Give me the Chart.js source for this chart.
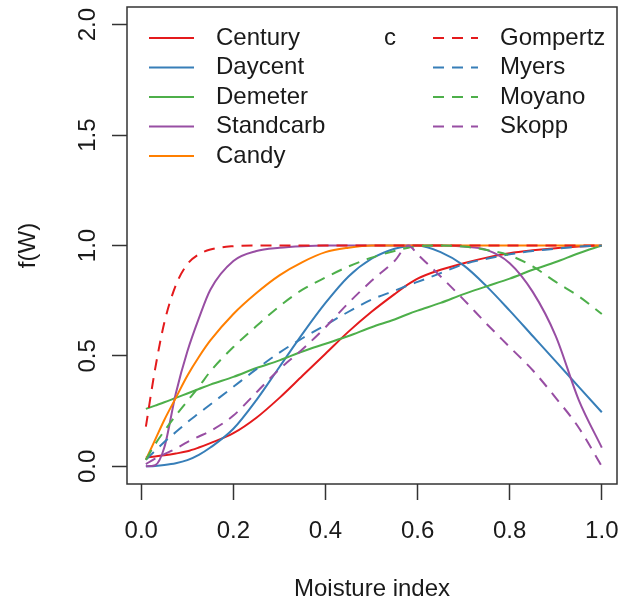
<!DOCTYPE html>
<html>
<head>
<meta charset="utf-8">
<script src="https://cdn.jsdelivr.net/npm/chart.js@4.4.0/dist/chart.umd.min.js"></script>
<style>
  html, body { margin: 0; padding: 0; background: #fff; }
  #wrap { width: 621px; height: 607px; }
</style>
</head>
<body>
<div id="wrap"><canvas id="chart" width="621" height="607"></canvas></div>
<script>
// Data (moisture index -> f(W))
const moisture = [0.01, 0.03, 0.05, 0.075, 0.1, 0.125, 0.15, 0.2, 0.25, 0.3, 0.35, 0.4, 0.45, 0.5, 0.55, 0.58, 0.6, 0.65, 0.7, 0.75, 0.8, 0.85, 0.9, 0.95, 1.0];

const century   = [0.04, 0.045, 0.05, 0.058, 0.068, 0.085, 0.105, 0.15, 0.22, 0.31, 0.41, 0.51, 0.61, 0.70, 0.78, 0.825, 0.85, 0.89, 0.92, 0.945, 0.965, 0.978, 0.988, 0.995, 1.0];
const daycent   = [0.0, 0.002, 0.006, 0.014, 0.028, 0.052, 0.085, 0.17, 0.30, 0.45, 0.60, 0.74, 0.86, 0.94, 0.985, 0.998, 1.0, 0.97, 0.91, 0.815, 0.705, 0.59, 0.475, 0.36, 0.245];
const demeter   = [0.26, 0.275, 0.29, 0.31, 0.33, 0.35, 0.37, 0.405, 0.445, 0.48, 0.52, 0.555, 0.59, 0.63, 0.665, 0.69, 0.705, 0.74, 0.78, 0.815, 0.85, 0.89, 0.925, 0.965, 1.0];
const standcarb = [0.0, 0.005, 0.085, 0.33, 0.52, 0.67, 0.80, 0.93, 0.975, 0.99, 0.997, 1.0, 1.0, 1.0, 1.0, 1.0, 1.0, 1.0, 0.995, 0.98, 0.92, 0.79, 0.59, 0.30, 0.085];
const candy     = [0.03, 0.12, 0.21, 0.31, 0.41, 0.495, 0.57, 0.69, 0.785, 0.865, 0.925, 0.97, 0.99, 1.0, 1.0, 1.0, 1.0, 1.0, 1.0, 1.0, 1.0, 1.0, 1.0, 1.0, 1.0];
const gompertz  = [0.18, 0.44, 0.65, 0.82, 0.915, 0.96, 0.982, 0.997, 1.0, 1.0, 1.0, 1.0, 1.0, 1.0, 1.0, 1.0, 1.0, 1.0, 1.0, 1.0, 1.0, 1.0, 1.0, 1.0, 1.0];
const myers     = [0.03, 0.07, 0.11, 0.155, 0.20, 0.24, 0.28, 0.36, 0.44, 0.515, 0.58, 0.64, 0.70, 0.755, 0.795, 0.82, 0.835, 0.875, 0.915, 0.94, 0.96, 0.975, 0.985, 0.995, 1.0];
const moyano    = [0.03, 0.10, 0.16, 0.23, 0.295, 0.36, 0.43, 0.54, 0.635, 0.725, 0.80, 0.855, 0.905, 0.945, 0.975, 0.99, 0.997, 1.0, 0.995, 0.98, 0.955, 0.905, 0.835, 0.77, 0.69];
const skopp     = [0.01, 0.035, 0.055, 0.08, 0.11, 0.135, 0.16, 0.23, 0.335, 0.44, 0.53, 0.63, 0.74, 0.84, 0.93, 1.0, 0.96, 0.86, 0.755, 0.645, 0.54, 0.435, 0.31, 0.175, 0.0];

const seriesNames = ['Century', 'Daycent', 'Demeter', 'Standcarb', 'Candy', 'Gompertz', 'Myers', 'Moyano', 'Skopp'];
const seriesValues = [century, daycent, demeter, standcarb, candy, gompertz, myers, moyano, skopp];

const xTicks = [0, 0.2, 0.4, 0.6, 0.8, 1.0];
const yTicks = [0, 0.5, 1.0, 1.5, 2.0];

// Set1-ish palette, solid for the first five, dashed for the rest
const palette = ['#e41a1c', '#377eb8', '#4daf4a', '#984ea3', '#ff7f00', '#e41a1c', '#377eb8', '#4daf4a', '#984ea3'];
const FONT = '"Liberation Sans", Arial, sans-serif';
const INK = '#1a1a1a';

const datasets = seriesValues.map((vals, i) => ({
  label: seriesNames[i],
  data: moisture.map((m, j) => ({ x: m, y: vals[j] })),
  borderColor: palette[i],
  borderWidth: 2,
  borderDash: i >= 5 ? [11, 8] : [],
  pointRadius: 0,
  fill: false,
  cubicInterpolationMode: 'monotone',
  order: seriesValues.length - i
}));

// box, rotated y labels, y title, and the in-plot legend
const rPlotBits = {
  id: 'rPlotBits',
  afterDraw(chart) {
    const { ctx, chartArea: a, scales: { y } } = chart;
    ctx.save();
    ctx.strokeStyle = '#333';
    ctx.lineWidth = 1.5;
    ctx.setLineDash([]);
    ctx.strokeRect(a.left, a.top, a.right - a.left, a.bottom - a.top);

    ctx.fillStyle = INK;
    ctx.font = '24px ' + FONT;
    ctx.textAlign = 'center';
    ctx.textBaseline = 'middle';
    y.ticks.forEach(t => {
      ctx.save();
      ctx.translate(88, y.getPixelForValue(t.value));
      ctx.rotate(-Math.PI / 2);
      ctx.fillText(t.value.toFixed(1), 0, 0);
      ctx.restore();
    });
    ctx.save();
    ctx.translate(28, (a.top + a.bottom) / 2);
    ctx.rotate(-Math.PI / 2);
    ctx.fillText('f(W)', 0, 0);
    ctx.restore();

    // legend
    const rowY = i => a.top + 31 + i * 29.5;
    chart.data.datasets.forEach((ds, i) => {
      const col = i < 5 ? 0 : 1;
      const row = col ? i - 5 : i;
      const x0 = col ? a.left + 306 : a.left + 22;
      const yy = rowY(row);
      ctx.strokeStyle = ds.borderColor;
      ctx.lineWidth = 2;
      ctx.setLineDash(ds.borderDash);
      ctx.beginPath();
      ctx.moveTo(x0, yy);
      ctx.lineTo(x0 + 45, yy);
      ctx.stroke();
      ctx.setLineDash([]);
      ctx.textAlign = 'left';
      ctx.fillText(ds.label, x0 + 67, yy);
    });
    ctx.textAlign = 'center';
    ctx.fillText('c', a.left + 263, rowY(0));
    ctx.restore();
  }
};

new Chart(document.getElementById('chart'), {
  type: 'line',
  data: { datasets },
  options: {
    responsive: false,
    animation: false,
    events: [],
    layout: { padding: { top: 7, right: 4, left: 0, bottom: 0 } },
    plugins: { legend: { display: false }, tooltip: { enabled: false } },
    scales: {
      x: {
        type: 'linear',
        min: -0.031,
        max: 1.033,
        afterBuildTicks: s => { s.ticks = xTicks.map(v => ({ value: v })); },
        afterFit: s => { s.height = 123; s.paddingLeft = 0; s.paddingRight = 0; },
        grid: { display: true, drawOnChartArea: false, drawTicks: true, tickLength: 16, tickWidth: 1.5, tickColor: '#333' },
        border: { display: false },
        ticks: {
          autoSkip: false, maxRotation: 0, padding: 17, color: INK,
          font: { size: 24, family: FONT },
          callback: v => v.toFixed(1)
        },
        title: { display: true, text: 'Moisture index', color: INK, font: { size: 24, family: FONT }, padding: { top: 0, bottom: 3 } }
      },
      y: {
        type: 'linear',
        min: -0.08,
        max: 2.08,
        afterBuildTicks: s => { s.ticks = yTicks.map(v => ({ value: v })); },
        afterFit: s => { s.width = 127; s.paddingTop = 0; s.paddingBottom = 0; },
        grid: { display: true, drawOnChartArea: false, drawTicks: true, tickLength: 15, tickWidth: 1.5, tickColor: '#333' },
        border: { display: false },
        ticks: { display: false }
      }
    }
  },
  plugins: [rPlotBits]
});
</script>
</body>
</html>
